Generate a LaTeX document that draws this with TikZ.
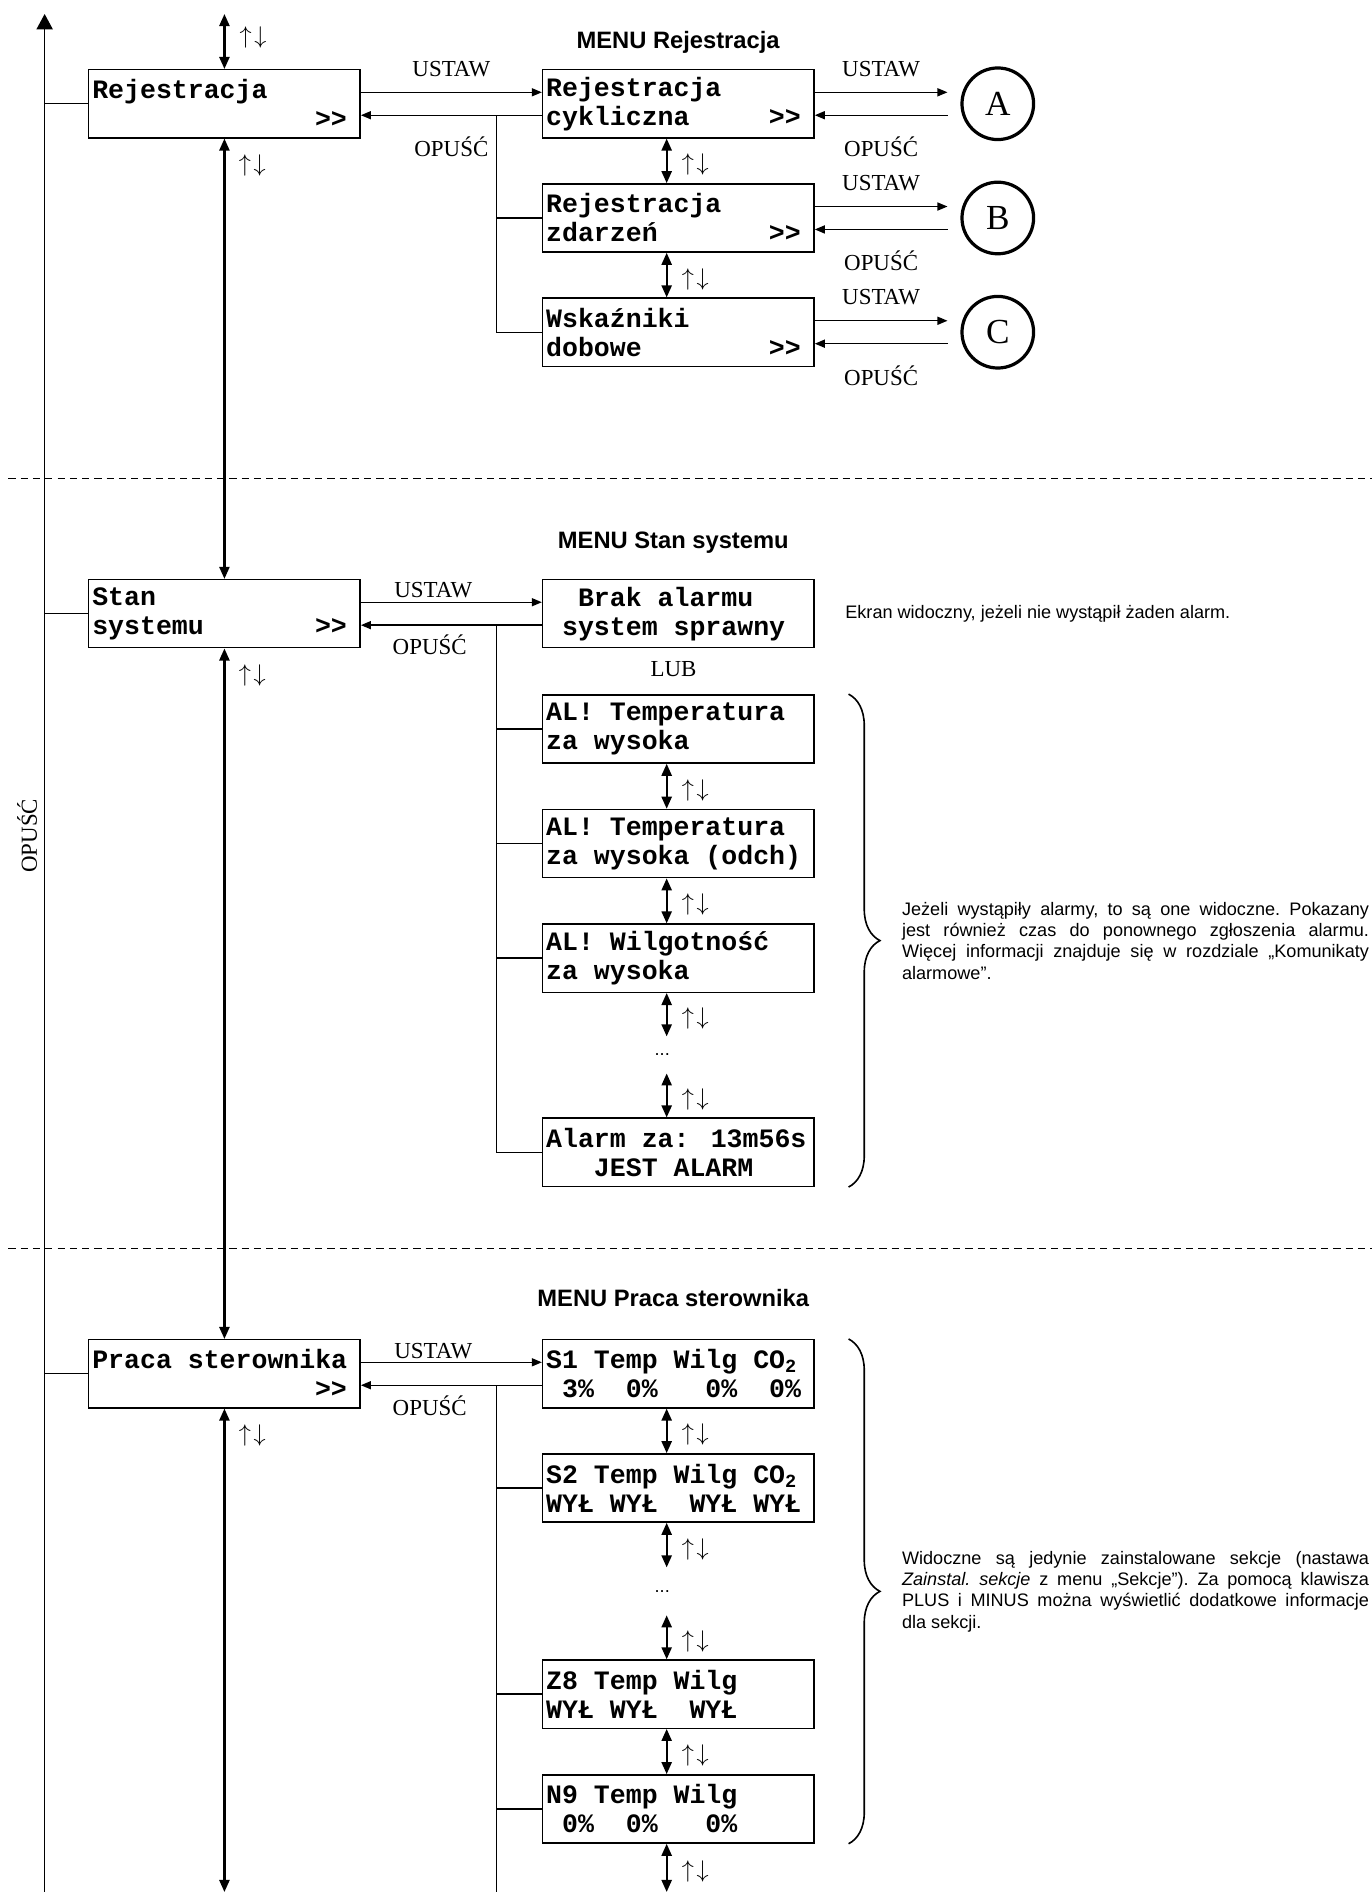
\documentclass[tikz,border=0pt]{standalone}
\usepackage{fontspec}
\setmainfont{Liberation Serif}
\newfontfamily\lcdfont{Liberation Mono}
\newfontfamily\notefont{Liberation Sans}
\usepackage{tikz}
\usetikzlibrary{arrows.meta, positioning, calc, decorations.pathreplacing}

\newcommand{\lcdsp}{\hphantom{0}}
\newcommand{\lcdmore}{\leavevmode\hfill>\kern0pt>\kern4.8pt}
\newcommand{\updn}{$\uparrow\mkern2mu\downarrow$}

\begin{document}
\begin{tikzpicture}[
    x=0.6pt, y=-0.6pt,
    lcdbox/.style={rectangle, draw=black, line width=0.7pt, align=flush left, text width=131.4pt, inner xsep=1.8pt, inner ysep=1pt, minimum height=33.9pt, font={\lcdfont\bfseries\fontsize{13.2}{14.4}\selectfont}},
    jump/.style={circle, draw=black, line width=1.6pt, minimum size=35.6pt, inner sep=0pt, font=\fontsize{17.5}{20}\selectfont},
    lbl/.style={inner sep=0pt, font=\fontsize{11.4}{13}\selectfont},
    updownlbl/.style={inner sep=0pt, right=7pt, yshift=-2pt, font=\fontsize{12}{14}\selectfont},
    menutitle/.style={inner sep=0pt, font={\notefont\bfseries\fontsize{11.8}{14}\selectfont}},
    remark/.style={inner sep=0pt, font={\notefont\fontsize{9}{10.6}\selectfont\frenchspacing}},
    note/.style={remark, align=justify, text width=232.2pt},
    ellip/.style={inner sep=0pt, xshift=-8pt, font={\notefont\fontsize{9}{10.6}\selectfont}},
    wire/.style={line width=0.7pt},
    arrow/.style={-{Triangle[length=5pt, width=4pt]}, line width=0.7pt},
    updown/.style={{Triangle[length=6pt, width=5pt]}-{Triangle[length=6pt, width=5pt]}, line width=1.1pt},
    bigarrow/.style={-{Triangle[length=7.6pt, width=8pt]}, line width=0.7pt},
    brc/.style={decorate, decoration={brace, amplitude=15.6pt}, line width=0.8pt},
    divider/.style={line width=0.7pt, dash pattern=on 3.6pt off 2.5pt}
]
    \useasboundingbox (0,0) rectangle (1137,1568);

    % Return line on the left
    \coordinate (optop) at (37,11.6);
    \coordinate (opbot) at (37,1568);
    \coordinate (col) at (552.5,0);
    \draw [bigarrow] (opbot) -- (optop);
    \node (opv) [lbl, rotate=90] at (22.5,692.7) {OPUŚĆ};

    % Section dividers
    \draw [divider] (7,396.5) -- (1137,396.5);
    \draw [divider] (7,1034.5) -- (1137,1034.5);

    % Menu 1: Rejestracja
    \node (reg) [lcdbox] at (186,86) {Rejestracja\\\lcdmore};
    \node (rc) [lcdbox, right=90pt of reg] {Rejestracja\\cykliczna\lcdmore};
    \node (rz) [lcdbox, below=22.2pt of rc] {Rejestracja\\zdarzeń\lcdmore};
    \node (wd) [lcdbox, below=22.2pt of rz] {Wskaźniki\\dobowe\lcdmore};
    \node (menu1) [menutitle, anchor=base] at (562,40) {MENU Rejestracja};

    \node (ca) [jump, right=72.4pt of rc] {A};
    \node (cb) [jump, right=72.4pt of rz] {B};
    \node (cc) [jump, right=72.4pt of wd] {C};

    \coordinate (topin) at (186,11.6);
    \draw [updown] (topin) -- node[updownlbl, pos=0.35] {\updn} (reg.north);
    \draw [wire] (reg.west) -- (reg.west -| optop);

    \draw [arrow] ([yshift=5.7pt]reg.east) -- node[lbl, above=7.4pt] {USTAW} ([yshift=5.7pt]rc.west);
    \draw [arrow] ([yshift=-5.7pt]rc.west) -- node[lbl, below=10.5pt] {OPUŚĆ} ([yshift=-5.7pt]reg.east);
    \coordinate (bus1) at ([xshift=-22.5pt, yshift=-5.7pt]rc.west);
    \draw [wire] (bus1) |- (wd.west);
    \draw [wire] (rz.west) -- (rz.west -| bus1);

    \draw [updown] (rc.south -| col) -- node[updownlbl] {\updn} (rz.north -| col);
    \draw [updown] (rz.south -| col) -- node[updownlbl] {\updn} (wd.north -| col);

    % Submenus A, B, C
    \foreach \sub/\hub in {rc/ca, rz/cb, wd/cc} {
        \draw [arrow] ([yshift=5.7pt]\sub.east) -- node[lbl, above=7.4pt] {USTAW} ([yshift=5.7pt, xshift=-6.4pt]\hub.west);
        \draw [arrow] ([yshift=-5.7pt, xshift=-6.4pt]\hub.west) -- node[lbl, below=10.5pt] {OPUŚĆ} ([yshift=-5.7pt]\sub.east);
    }

    % Menu 2: Stan systemu
    \node (stan) [lcdbox] at (186,508.6) {Stan\\systemu\lcdmore};
    \node (brak) [lcdbox, right=90pt of stan] {\lcdsp\lcdsp Brak alarmu\\\lcdsp system sprawny};
    \node (menu2) [menutitle, anchor=base] at (558,454.5) {MENU Stan systemu};
    \node (eknote) [remark, right=15pt of brak] {Ekran widoczny, jeżeli nie wystąpił żaden alarm.};
    \node (lub) [lbl, below=6.4pt of brak, xshift=-2.4pt] {LUB};
    \node (al1) [lcdbox, below=22.7pt of brak] {AL! Temperatura\\za wysoka};
    \node (al2) [lcdbox, below=22.4pt of al1] {AL! Temperatura\\za wysoka (odch)};
    \node (al3) [lcdbox, below=22.4pt of al2] {AL! Wilgotność\\za wysoka};
    \node (dots1) [ellip, below=21.6pt of al3, minimum height=18pt] {...};
    \node (alarm) [lcdbox, below=21.9pt of dots1, xshift=8pt] {Alarm za: 13m56s\\\lcdsp\lcdsp\lcdsp JEST ALARM};

    \draw [updown] (reg.south) -- (stan.north);
    \node (ud1) [updownlbl] at ([yshift=-11.2pt]reg.south) {\updn};
    \draw [wire] (stan.west) -- (stan.west -| optop);

    \draw [arrow] ([yshift=5.7pt]stan.east) -- node[lbl, pos=0.4, above=1.6pt] {USTAW} ([yshift=5.7pt]brak.west);
    \draw [arrow] ([yshift=-5.7pt]brak.west) -- node[lbl, pos=0.62, below=4.7pt] {OPUŚĆ} ([yshift=-5.7pt]stan.east);
    \coordinate (bus2) at ([xshift=-22.5pt, yshift=-5.7pt]brak.west);
    \draw [wire] (bus2) |- (alarm.west);
    \foreach \al in {al1, al2, al3}
        \draw [wire] (\al.west) -- (\al.west -| bus2);

    \draw [updown] (al1.south -| col) -- node[updownlbl] {\updn} (al2.north -| col);
    \draw [updown] (al2.south -| col) -- node[updownlbl] {\updn} (al3.north -| col);
    \draw [updown] (al3.south -| col) -- node[updownlbl] {\updn} (dots1.north -| col);
    \draw [updown] (dots1.south -| col) -- node[updownlbl] {\updn} (alarm.north -| col);

    \draw [brc] ([xshift=16.8pt]al1.north east) -- ([xshift=16.8pt]alarm.south east);
    \node (alnote) [note, anchor=west] at ([xshift=43.2pt]$(al1.north east)!0.5!(alarm.south east)$) {Jeżeli wystąpiły alarmy, to są one widoczne. Pokazany\linebreak jest również czas do ponownego zgłoszenia alarmu.\linebreak Więcej informacji znajduje się w rozdziale „Komunikaty\linebreak alarmowe”.};

    % Menu 3: Praca sterownika
    \node (praca) [lcdbox] at (186,1138.5) {Praca sterownika\\\lcdmore};
    \node (s1) [lcdbox, right=90pt of praca] {S1 Temp Wilg CO\textsubscript{2}\\\lcdsp 3\%~~0\%~~~0\%~~0\%};
    \node (menu3) [menutitle, anchor=base] at (558,1083) {MENU Praca sterownika};
    \node (s2) [lcdbox, below=22.2pt of s1] {S2 Temp Wilg CO\textsubscript{2}\\WYŁ WYŁ~~WYŁ WYŁ};
    \node (dots2) [ellip, below=22.2pt of s2, minimum height=23.4pt] {...};
    \node (z8) [lcdbox, below=21.9pt of dots2, xshift=8pt] {Z8 Temp Wilg\\WYŁ WYŁ~~WYŁ};
    \node (n9) [lcdbox, below=22.5pt of z8] {N9 Temp Wilg\\\lcdsp 0\%~~0\%~~~0\%};

    \draw [updown] (stan.south) -- (praca.north);
    \node (ud2) [updownlbl] at ([yshift=-11.2pt]stan.south) {\updn};
    \draw [wire] (praca.west) -- (praca.west -| optop);
    \coordinate (mainbot) at (186,1568);
    \draw [updown] (praca.south) -- (mainbot);
    \node (ud3) [updownlbl] at ([yshift=-11.2pt]praca.south) {\updn};

    \draw [arrow] ([yshift=5.7pt]praca.east) -- node[lbl, pos=0.4, above=1.6pt] {USTAW} ([yshift=5.7pt]s1.west);
    \draw [arrow] ([yshift=-5.7pt]s1.west) -- node[lbl, pos=0.62, below=4.7pt] {OPUŚĆ} ([yshift=-5.7pt]praca.east);
    \coordinate (bus3) at ([xshift=-22.5pt, yshift=-5.7pt]s1.west);
    \draw [wire] (bus3) -- (bus3 |- opbot);
    \foreach \sc in {s2, z8, n9}
        \draw [wire] (\sc.west) -- (\sc.west -| bus3);

    \draw [updown] (s1.south -| col) -- node[updownlbl] {\updn} (s2.north -| col);
    \draw [updown] (s2.south -| col) -- node[updownlbl] {\updn} (dots2.north -| col);
    \draw [updown] (dots2.south -| col) -- node[updownlbl] {\updn} (z8.north -| col);
    \draw [updown] (z8.south -| col) -- node[updownlbl] {\updn} (n9.north -| col);
    \draw [updown] (n9.south -| col) -- node[updownlbl] {\updn} (col |- opbot);

    \draw [brc] ([xshift=16.8pt]s1.north east) -- ([xshift=16.8pt]n9.south east);
    \node (secnote) [note, anchor=west] at ([xshift=43.2pt]$(s1.north east)!0.5!(n9.south east)$) {Widoczne są jedynie zainstalowane sekcje (nastawa\linebreak \textit{Zainstal. sekcje} z menu „Sekcje”). Za pomocą klawisza\linebreak PLUS i MINUS można wyświetlić dodatkowe informacje\linebreak dla sekcji.};
\end{tikzpicture}
\end{document}
